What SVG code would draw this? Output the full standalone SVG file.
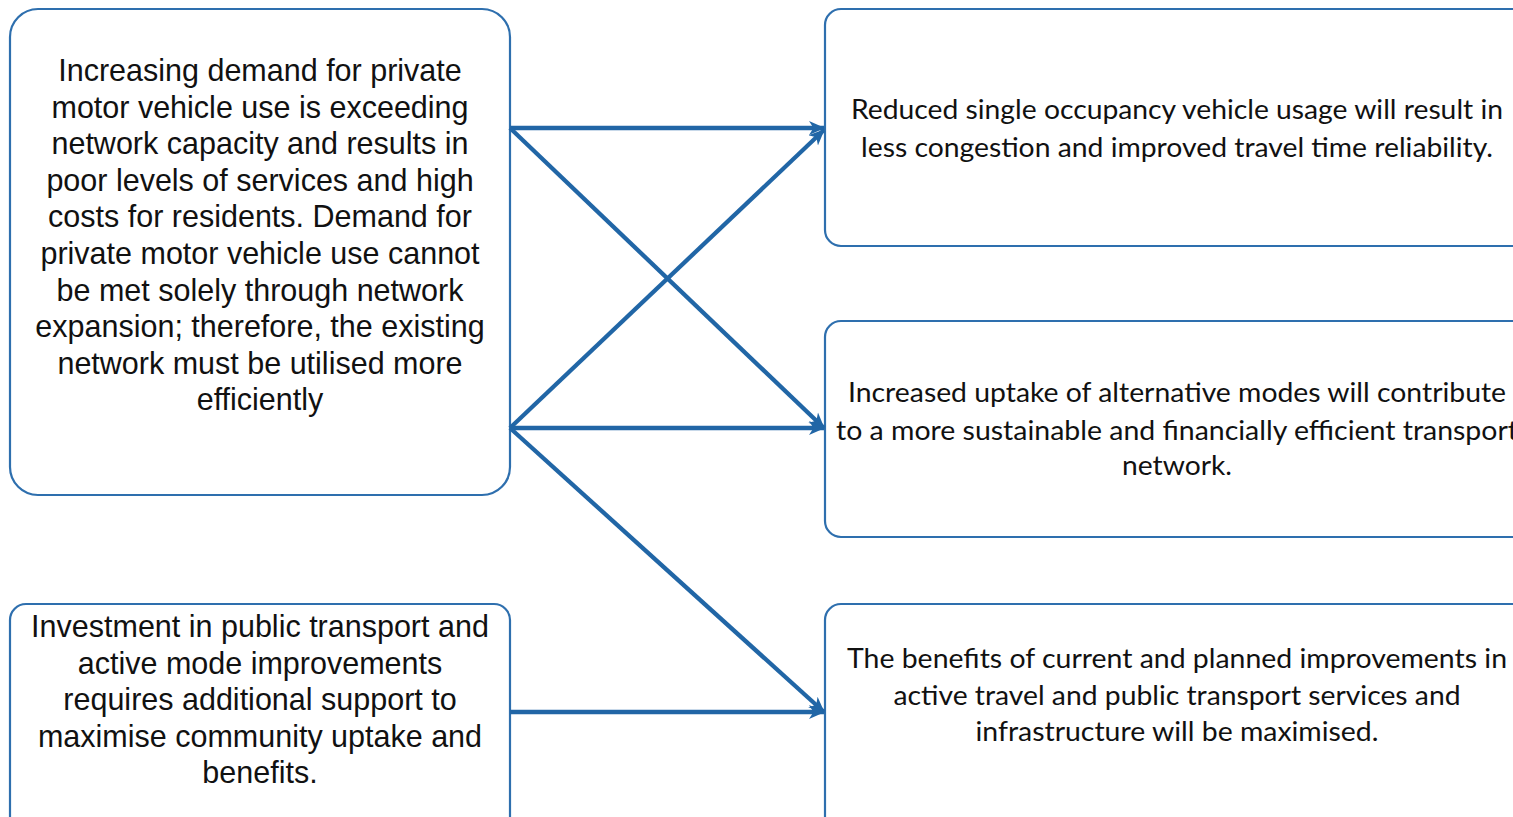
<svg xmlns="http://www.w3.org/2000/svg" width="1513" height="817" viewBox="0 0 1513 817">
  <style>
    .box { fill: #ffffff; stroke: #2e6fae; stroke-width: 2.2; }
    .lt { font-family: "Liberation Sans", Arial, sans-serif; font-size: 30.5px; fill: #111111; text-anchor: middle; }
    .rt { font-family: Lato, "Open Sans", sans-serif; font-size: 27px; fill: #111111; text-anchor: middle; }
    .link { fill: none; stroke: #2166a6; stroke-width: 4.3; marker-end: url(#head); }
  </style>
  <defs>
    <marker id="head" viewBox="0 0 16 16" refX="15" refY="8" markerWidth="16" markerHeight="16" markerUnits="userSpaceOnUse" orient="auto">
      <path d="M0,1 L16,8 L0,15 L4.5,8 z" fill="#2166a6"/>
    </marker>
  </defs>
  <rect width="1513" height="817" fill="#ffffff"/>

  <!-- cause: network demand -->
  <g id="node-demand">
    <rect class="box" x="10" y="9" width="500" height="486" rx="28" ry="28"/>
    <text class="lt" x="260" y="81">Increasing demand for private</text>
    <text class="lt" x="260" y="117.6">motor vehicle use is exceeding</text>
    <text class="lt" x="260" y="154.2">network capacity and results in</text>
    <text class="lt" x="260" y="190.8">poor levels of services and high</text>
    <text class="lt" x="260" y="227.4">costs for residents. Demand for</text>
    <text class="lt" x="260" y="264">private motor vehicle use cannot</text>
    <text class="lt" x="260" y="300.6">be met solely through network</text>
    <text class="lt" x="260" y="337.2">expansion; therefore, the existing</text>
    <text class="lt" x="260" y="373.8">network must be utilised more</text>
    <text class="lt" x="260" y="410.4">efficiently</text>
  </g>

  <!-- cause: investment support -->
  <g id="node-investment">
    <rect class="box" x="10" y="604" width="500" height="260" rx="16" ry="16"/>
    <text class="lt" x="260" y="637">Investment in public transport and</text>
    <text class="lt" x="260" y="673.5">active mode improvements</text>
    <text class="lt" x="260" y="710">requires additional support to</text>
    <text class="lt" x="260" y="746.5">maximise community uptake and</text>
    <text class="lt" x="260" y="783">benefits.</text>
  </g>

  <!-- outcome: congestion -->
  <g id="node-congestion">
    <rect class="box" x="825" y="9" width="706" height="237" rx="16" ry="16"/>
    <text class="rt" x="1177" y="119" textLength="652" lengthAdjust="spacingAndGlyphs">Reduced single occupancy vehicle usage will result in</text>
    <text class="rt" x="1177" y="157" textLength="632" lengthAdjust="spacingAndGlyphs">less congestion and improved travel time reliability.</text>
  </g>

  <!-- outcome: alternative modes -->
  <g id="node-alternative">
    <rect class="box" x="825" y="321" width="706" height="216" rx="16" ry="16"/>
    <text class="rt" x="1177" y="402" textLength="658" lengthAdjust="spacingAndGlyphs">Increased uptake of alternative modes will contribute</text>
    <text class="rt" x="1177" y="440" textLength="682" lengthAdjust="spacingAndGlyphs">to a more sustainable and financially efficient transport</text>
    <text class="rt" x="1177" y="475" textLength="110" lengthAdjust="spacingAndGlyphs">network.</text>
  </g>

  <!-- outcome: maximised benefits -->
  <g id="node-benefits">
    <rect class="box" x="825" y="604" width="706" height="260" rx="16" ry="16"/>
    <text class="rt" x="1177" y="668" textLength="660" lengthAdjust="spacingAndGlyphs">The benefits of current and planned improvements in</text>
    <text class="rt" x="1177" y="705" textLength="567" lengthAdjust="spacingAndGlyphs">active travel and public transport services and</text>
    <text class="rt" x="1177" y="741" textLength="403" lengthAdjust="spacingAndGlyphs">infrastructure will be maximised.</text>
  </g>

  <!-- connectors -->
  <g id="connectors">
    <line class="link" x1="510" y1="128" x2="824" y2="128"/>
    <line class="link" x1="510" y1="128" x2="824" y2="428"/>
    <line class="link" x1="510" y1="428" x2="824" y2="130"/>
    <line class="link" x1="510" y1="428" x2="824" y2="428"/>
    <line class="link" x1="510" y1="428" x2="824" y2="712"/>
    <line class="link" x1="510" y1="712" x2="824" y2="712"/>
  </g>
</svg>
